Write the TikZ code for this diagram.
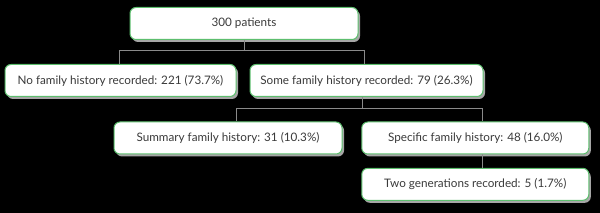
\documentclass[tikz,border=0pt]{standalone}
\usepackage{fontspec}
\setmainfont{Lato}
\usetikzlibrary{shadows,calc}
\definecolor{boxgreen}{HTML}{5DBE6E}
\definecolor{txtgray}{HTML}{3A3A3A}
\definecolor{conngray}{HTML}{8A8A8A}
\tikzset{
 box/.style={draw=boxgreen, line width=1pt, fill=white, rounded corners=6pt, text=txtgray,
   font=\fontsize{11.7}{13}\selectfont, minimum height=32pt, inner sep=0pt,
   drop shadow={shadow xshift=2pt, shadow yshift=-2.5pt, fill=gray!70, opacity=1}},
 conn/.style={draw=conngray, line width=0.8pt}
}
\begin{document}
\begin{tikzpicture}[x=1pt,y=-1pt]
\fill[black] (0,0) rectangle (600,213);
\useasboundingbox (0,0) rectangle (600,213);
\coordinate (bus1) at (0,50);
\coordinate (bus2) at (0,108);
\node[box, minimum width=228pt] (top) at (244,23.5) {300 patients};
\node[box, minimum width=231pt] (no) at (120.5,80.5) {No family history recorded: 221 (73.7\%)};
\node[box, minimum width=233pt] (some) at (366.5,80.5) {Some family history recorded: 79 (26.3\%)};
\node[box, minimum width=228pt] (sum) at (228,138) {Summary family history: 31 (10.3\%)};
\node[box, minimum width=227pt] (spec) at (475.3,138) {Specific family history: 48 (16.0\%)};
\node[box, minimum width=227pt] (two) at (475.3,184.3) {Two generations recorded: 5 (1.7\%)};
% connectors
\draw[conn] (top.south) -- (top.south |- bus1);
\draw[conn] ($(no.north)+(-1.5,0)$) -- ($(no.north |- bus1)+(-1.5,0)$) -- ($(some.north |- bus1)+(-2.5,0)$) -- ($(some.north)+(-2.5,0)$);
\draw[conn] ($(some.south)+(-4.5,0)$) -- ($(some.south |- bus2)+(-4.5,0)$);
\draw[conn] ($(sum.north)+(8.7,0)$) -- ($(sum.north |- bus2)+(8.7,0)$) -- ($(spec.north |- bus2)+(7.4,0)$) -- ($(spec.north)+(7.4,0)$);
\draw[conn] ($(spec.south)+(7.4,0)$) -- ($(two.north)+(7.4,0)$);
\end{tikzpicture}
\end{document}
